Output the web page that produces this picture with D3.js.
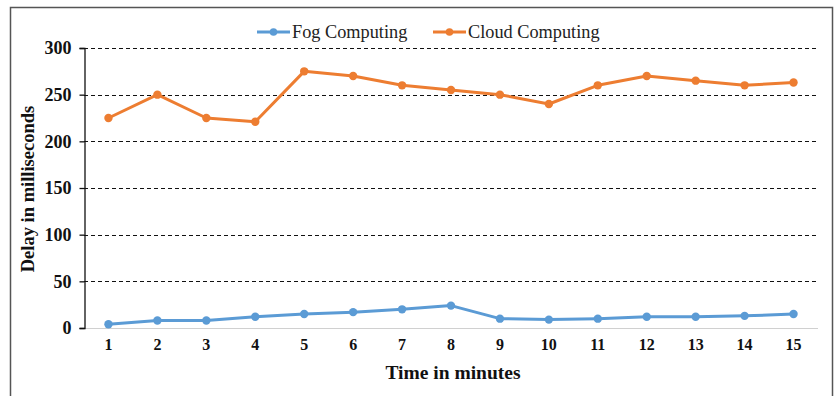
<!DOCTYPE html>
<html>
<head>
<meta charset="utf-8">
<script src="https://cdn.jsdelivr.net/npm/d3@7"></script>
<style>
  html, body { margin: 0; padding: 0; background: #fff; }
  svg { display: block; }
  svg text { font-family: 'Liberation Serif', 'Times New Roman', serif; }
</style>
</head>
<body>
<svg id="chart" width="840" height="396"></svg>
<script>
// Delay measurements per minute
const minutes = ["1","2","3","4","5","6","7","8","9","10","11","12","13","14","15"];
const fogDelay = [4, 8, 8, 12, 15, 17, 20, 24, 10, 9, 10, 12, 12, 13, 15];
const cloudDelay = [225, 250, 225, 221, 275, 270, 260, 255, 250, 240, 260, 270, 265, 260, 263];
const yTicks = [0, 50, 100, 150, 200, 250, 300];
const seriesNames = ["Fog Computing", "Cloud Computing"];
const seriesColors = ["#5B9BD5", "#ED7D31"];

const svg = d3.select("#chart");
const margin = { left: 84, right: 22 };
const W = 840;
const font = "'Liberation Serif', 'Times New Roman', serif";

// outer frame
svg.append("rect")
  .attr("x", 10.5).attr("y", 7.5)
  .attr("width", 822).attr("height", 400)
  .attr("fill", "none").attr("stroke", "#555").attr("stroke-width", 1.5);

const x = d3.scaleBand().domain(minutes).range([margin.left, W - margin.right]);
const y = d3.scaleLinear().domain([0, 300]).range([328, 48]);

// dashed gridlines
svg.append("g").selectAll("line")
  .data(yTicks.filter(d => d > 0))
  .join("line")
  .attr("x1", margin.left).attr("x2", W - margin.right)
  .attr("y1", d => Math.round(y(d)) + 0.5).attr("y2", d => Math.round(y(d)) + 0.5)
  .attr("stroke", "#111").attr("stroke-width", 1)
  .attr("stroke-dasharray", "4,3");

// baseline
svg.append("line")
  .attr("x1", margin.left).attr("x2", W - margin.right)
  .attr("y1", y(0) + 0.5).attr("y2", y(0) + 0.5)
  .attr("stroke", "#d0d0d0").attr("stroke-width", 1);

// y axis
const yAxis = d3.axisLeft(y).tickValues(yTicks).tickSize(5).tickPadding(8);
const gy = svg.append("g").attr("transform", `translate(${margin.left + 0.5},0)`).call(yAxis)
  .attr("font-family", font);
gy.select(".domain").attr("stroke", "#111").attr("stroke-width", 1.3);
gy.selectAll(".tick line").attr("stroke", "#111").attr("stroke-width", 1.3);
gy.selectAll(".tick text")
  .attr("font-family", font).attr("font-size", 18).attr("font-weight", "bold").attr("fill", "#111");

// x axis labels
const xAxis = d3.axisBottom(x).tickSize(0).tickPadding(11);
const gx = svg.append("g").attr("transform", `translate(0,${y(0)})`).call(xAxis)
  .attr("font-family", font);
gx.select(".domain").remove();
gx.selectAll(".tick text")
  .attr("font-family", font).attr("font-size", 16).attr("font-weight", "bold").attr("fill", "#111");

// axis titles
svg.append("text")
  .attr("x", 453).attr("y", 379)
  .attr("text-anchor", "middle")
  .attr("font-family", font).attr("font-size", 19.5).attr("font-weight", "bold").attr("fill", "#111")
  .text("Time in minutes");
svg.append("text")
  .attr("transform", "translate(34,189) rotate(-90)")
  .attr("text-anchor", "middle")
  .attr("font-family", font).attr("font-size", 18.5).attr("font-weight", "bold").attr("fill", "#111")
  .text("Delay in milliseconds");

// series
const series = [fogDelay, cloudDelay];
const line = d3.line()
  .x((d, i) => x(minutes[i]) + x.bandwidth() / 2)
  .y(d => y(d));

series.forEach((vals, k) => {
  const g = svg.append("g");
  g.append("path")
    .datum(vals)
    .attr("d", line)
    .attr("fill", "none")
    .attr("stroke", seriesColors[k])
    .attr("stroke-width", 3)
    .attr("stroke-linejoin", "round");
  g.selectAll("circle")
    .data(vals)
    .join("circle")
    .attr("cx", (d, i) => x(minutes[i]) + x.bandwidth() / 2)
    .attr("cy", d => y(d))
    .attr("r", 4.2)
    .attr("fill", seriesColors[k]);
});

// legend
const legendX = [257, 433];
seriesNames.forEach((name, k) => {
  const lg = svg.append("g").attr("transform", `translate(${legendX[k]},32)`);
  lg.append("line").attr("x1", 0).attr("x2", 33).attr("y1", 0).attr("y2", 0)
    .attr("stroke", seriesColors[k]).attr("stroke-width", 3);
  lg.append("circle").attr("cx", 16.5).attr("cy", 0).attr("r", 3.8).attr("fill", seriesColors[k]);
  lg.append("text").attr("x", 35).attr("y", 6)
    .attr("font-family", font).attr("font-size", 18.3).attr("fill", "#222")
    .text(name);
});
</script>
</body>
</html>
